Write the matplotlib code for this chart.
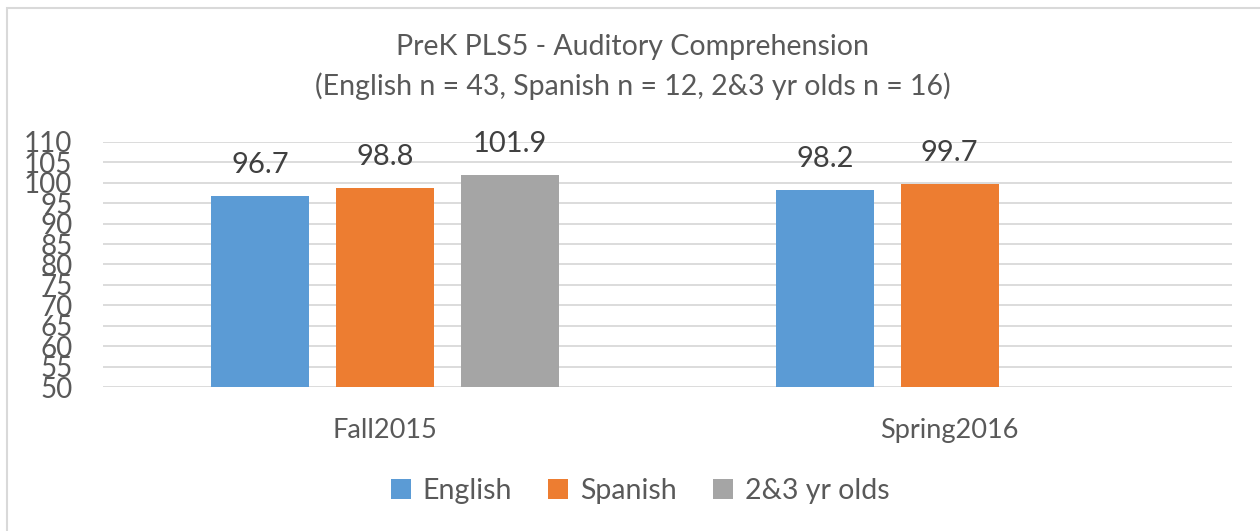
import numpy as np
import matplotlib
matplotlib.use('Agg')
import matplotlib.pyplot as plt
from matplotlib.patches import Rectangle

# Chart data
categories = ['Fall2015', 'Spring2016']
series_names = ['English', 'Spanish', '2&3 yr olds']
english = [96.7, 98.2]
spanish = [98.8, 99.7]
toddlers = [101.9, None]
y_ticks = list(range(50, 111, 5))

colors = ['#5B9BD5', '#ED7D31', '#A5A5A5']
text_color = '#595959'

plt.rcParams['font.family'] = ['Lato', 'DejaVu Sans']

fig = plt.figure(figsize=(12.6, 5.31), dpi=100)
ax = fig.add_axes([103 / 1260, 1 - 387 / 531, (1232 - 103) / 1260, (387 - 142) / 531])

x = np.arange(len(categories))
width = 0.1736
step = 0.2214

for i, (name, vals) in enumerate(zip(series_names, [english, spanish, toddlers])):
    xs = [xx + (i - 1) * step for xx, v in zip(x, vals) if v is not None]
    vs = [v for v in vals if v is not None]
    ax.bar(xs, [v - 50 for v in vs], width, bottom=50, color=colors[i], label=name, zorder=3)
    for xx, v in zip(xs, vs):
        ax.annotate('%.1f' % v, (xx, v), xytext=(0, 13), textcoords='offset points',
                    ha='center', va='bottom', fontsize=21, color='#404040')

ax.set_xlim(-0.5, 1.5)
ax.set_ylim(50, 110)
ax.set_yticks(y_ticks)
ax.set_yticklabels([str(t) for t in y_ticks], fontsize=20, color=text_color)
ax.set_xticks(x)
ax.set_xticklabels(categories, fontsize=19.5, color=text_color)
ax.tick_params(axis='y', length=0, pad=22)
ax.tick_params(axis='x', length=0, pad=22)
ax.grid(axis='y', color='#D9D9D9', linewidth=1.3, zorder=0)
for s in ax.spines.values():
    s.set_visible(False)

fig.text(633 / 1260, 1 - 47 / 531, 'PreK PLS5 - Auditory Comprehension', ha='center', va='center',
         fontsize=20.5, color=text_color)
fig.text(633 / 1260, 1 - 86 / 531, '(English n = 43, Spanish n = 12, 2&3 yr olds n = 16)', ha='center',
         va='center', fontsize=20.5, color=text_color)

fig.legend(loc='center', bbox_to_anchor=(640 / 1260, 1 - 491 / 531), ncol=3, frameon=False,
           fontsize=20.5, labelcolor=text_color, handlelength=0.7, handleheight=0.7,
           handletextpad=0.4, columnspacing=1.3)

fig.patches.append(Rectangle((6.5 / 1260, -0.1), 1.2, 1 - 7.5 / 531 + 0.1, transform=fig.transFigure,
                             fill=False, edgecolor='#D9D9D9', linewidth=1.5))

fig.savefig('out.png', dpi=100)
